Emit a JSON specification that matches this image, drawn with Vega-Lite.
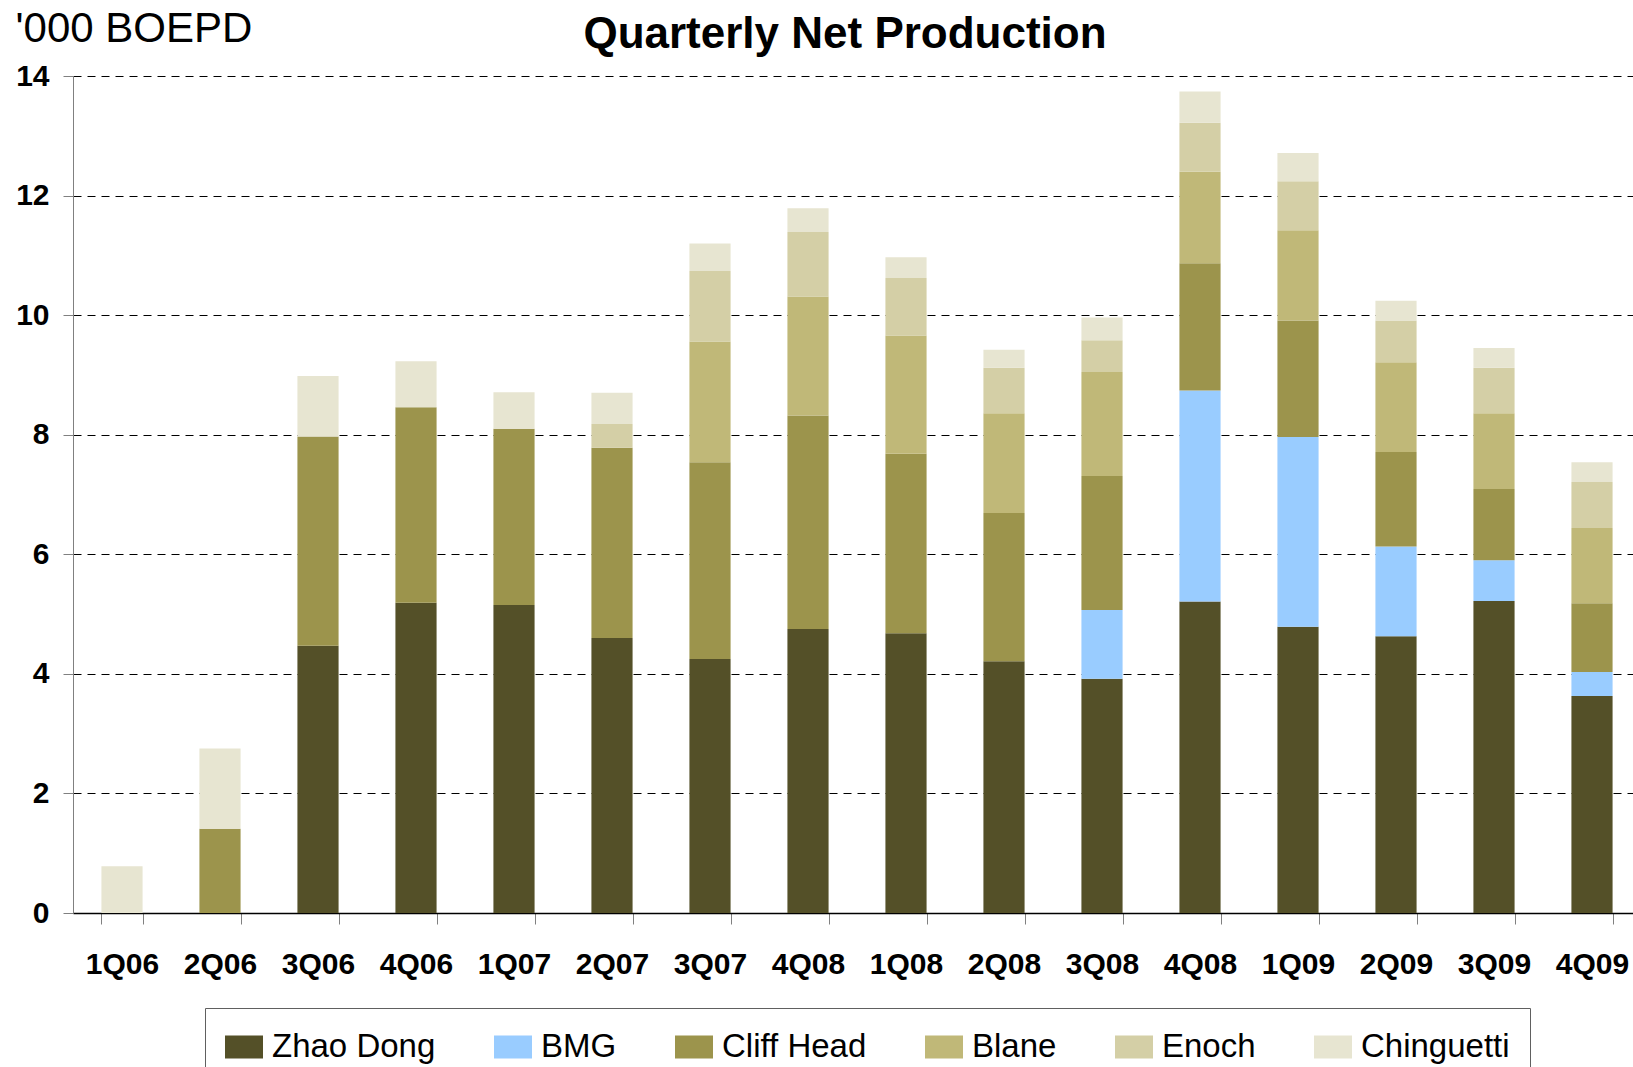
{
  "$schema": "https://vega.github.io/schema/vega-lite/v6.json",
  "width": 1568,
  "height": 837,
  "autosize": {"type": "none"},
  "padding": {"left": 73, "top": 76, "right": 0, "bottom": 154},
  "background": "white",
  "config": {"view": {"stroke": null}},
  "title": {
    "text": "Quarterly Net Production",
    "font": "Liberation Sans",
    "fontSize": 44,
    "fontWeight": "bold",
    "color": "black",
    "anchor": "middle",
    "dx": -12,
    "dy": 54
  },
  "data": {
    "values": [
      {"quarter": "1Q06", "field": "Chinguetti", "value": 0.78},
      {"quarter": "2Q06", "field": "Cliff Head", "value": 1.41},
      {"quarter": "2Q06", "field": "Chinguetti", "value": 1.34},
      {"quarter": "3Q06", "field": "Zhao Dong", "value": 4.47},
      {"quarter": "3Q06", "field": "Cliff Head", "value": 3.50},
      {"quarter": "3Q06", "field": "Chinguetti", "value": 1.01},
      {"quarter": "4Q06", "field": "Zhao Dong", "value": 5.19},
      {"quarter": "4Q06", "field": "Cliff Head", "value": 3.27},
      {"quarter": "4Q06", "field": "Chinguetti", "value": 0.77},
      {"quarter": "1Q07", "field": "Zhao Dong", "value": 5.15},
      {"quarter": "1Q07", "field": "Cliff Head", "value": 2.95},
      {"quarter": "1Q07", "field": "Chinguetti", "value": 0.61},
      {"quarter": "2Q07", "field": "Zhao Dong", "value": 4.60},
      {"quarter": "2Q07", "field": "Cliff Head", "value": 3.18},
      {"quarter": "2Q07", "field": "Enoch", "value": 0.40},
      {"quarter": "2Q07", "field": "Chinguetti", "value": 0.52},
      {"quarter": "3Q07", "field": "Zhao Dong", "value": 4.25},
      {"quarter": "3Q07", "field": "Cliff Head", "value": 3.29},
      {"quarter": "3Q07", "field": "Blane", "value": 2.02},
      {"quarter": "3Q07", "field": "Enoch", "value": 1.18},
      {"quarter": "3Q07", "field": "Chinguetti", "value": 0.46},
      {"quarter": "4Q08 ", "field": "Zhao Dong", "value": 4.75},
      {"quarter": "4Q08 ", "field": "Cliff Head", "value": 3.57},
      {"quarter": "4Q08 ", "field": "Blane", "value": 1.99},
      {"quarter": "4Q08 ", "field": "Enoch", "value": 1.08},
      {"quarter": "4Q08 ", "field": "Chinguetti", "value": 0.40},
      {"quarter": "1Q08", "field": "Zhao Dong", "value": 4.68},
      {"quarter": "1Q08", "field": "Cliff Head", "value": 3.00},
      {"quarter": "1Q08", "field": "Blane", "value": 1.98},
      {"quarter": "1Q08", "field": "Enoch", "value": 0.96},
      {"quarter": "1Q08", "field": "Chinguetti", "value": 0.35},
      {"quarter": "2Q08", "field": "Zhao Dong", "value": 4.21},
      {"quarter": "2Q08", "field": "Cliff Head", "value": 2.48},
      {"quarter": "2Q08", "field": "Blane", "value": 1.67},
      {"quarter": "2Q08", "field": "Enoch", "value": 0.76},
      {"quarter": "2Q08", "field": "Chinguetti", "value": 0.30},
      {"quarter": "3Q08", "field": "Zhao Dong", "value": 3.92},
      {"quarter": "3Q08", "field": "BMG", "value": 1.15},
      {"quarter": "3Q08", "field": "Cliff Head", "value": 2.24},
      {"quarter": "3Q08", "field": "Blane", "value": 1.74},
      {"quarter": "3Q08", "field": "Enoch", "value": 0.53},
      {"quarter": "3Q08", "field": "Chinguetti", "value": 0.38},
      {"quarter": "4Q08", "field": "Zhao Dong", "value": 5.21},
      {"quarter": "4Q08", "field": "BMG", "value": 3.53},
      {"quarter": "4Q08", "field": "Cliff Head", "value": 2.13},
      {"quarter": "4Q08", "field": "Blane", "value": 1.53},
      {"quarter": "4Q08", "field": "Enoch", "value": 0.82},
      {"quarter": "4Q08", "field": "Chinguetti", "value": 0.52},
      {"quarter": "1Q09", "field": "Zhao Dong", "value": 4.79},
      {"quarter": "1Q09", "field": "BMG", "value": 3.17},
      {"quarter": "1Q09", "field": "Cliff Head", "value": 1.95},
      {"quarter": "1Q09", "field": "Blane", "value": 1.51},
      {"quarter": "1Q09", "field": "Enoch", "value": 0.82},
      {"quarter": "1Q09", "field": "Chinguetti", "value": 0.47},
      {"quarter": "2Q09", "field": "Zhao Dong", "value": 4.63},
      {"quarter": "2Q09", "field": "BMG", "value": 1.50},
      {"quarter": "2Q09", "field": "Cliff Head", "value": 1.58},
      {"quarter": "2Q09", "field": "Blane", "value": 1.50},
      {"quarter": "2Q09", "field": "Enoch", "value": 0.70},
      {"quarter": "2Q09", "field": "Chinguetti", "value": 0.33},
      {"quarter": "3Q09", "field": "Zhao Dong", "value": 5.22},
      {"quarter": "3Q09", "field": "BMG", "value": 0.68},
      {"quarter": "3Q09", "field": "Cliff Head", "value": 1.19},
      {"quarter": "3Q09", "field": "Blane", "value": 1.27},
      {"quarter": "3Q09", "field": "Enoch", "value": 0.76},
      {"quarter": "3Q09", "field": "Chinguetti", "value": 0.33},
      {"quarter": "4Q09", "field": "Zhao Dong", "value": 3.63},
      {"quarter": "4Q09", "field": "BMG", "value": 0.40},
      {"quarter": "4Q09", "field": "Cliff Head", "value": 1.15},
      {"quarter": "4Q09", "field": "Blane", "value": 1.26},
      {"quarter": "4Q09", "field": "Enoch", "value": 0.77},
      {"quarter": "4Q09", "field": "Chinguetti", "value": 0.33}
    ]
  },
  "transform": [
    {"calculate": "indexof(['Zhao Dong', 'BMG', 'Cliff Head', 'Blane', 'Enoch', 'Chinguetti'], datum.field)", "as": "stackOrder"}
  ],
  "mark": {"type": "bar"},
  "encoding": {
    "x": {
      "field": "quarter",
      "type": "ordinal",
      "sort": null,
      "scale": {"paddingInner": 0.58, "paddingOuter": 0.29},
      "axis": {
        "title": null,
        "labelExpr": "trim(datum.label)",
        "labelAngle": 0,
        "labelFont": "Liberation Sans",
        "labelFontSize": 30,
        "labelFontWeight": "bold",
        "labelColor": "black",
        "labelPadding": 25,
        "tickBand": "extent",
        "tickSize": 11,
        "tickColor": "#808080",
        "domainColor": "black",
        "domainWidth": 1.5,
        "grid": false
      }
    },
    "y": {
      "field": "value",
      "type": "quantitative",
      "stack": "zero",
      "scale": {"domain": [0, 14], "nice": false},
      "axis": {
        "title": "'000 BOEPD",
        "titleAngle": 0,
        "titleX": -58,
        "titleY": -35,
        "titleAlign": "left",
        "titleBaseline": "alphabetic",
        "titleFont": "Liberation Sans",
        "titleFontSize": 42,
        "titleFontWeight": "normal",
        "titleColor": "black",
        "values": [0, 2, 4, 6, 8, 10, 12, 14],
        "labelFont": "Liberation Sans",
        "labelFontSize": 30,
        "labelFontWeight": "bold",
        "labelColor": "black",
        "labelPadding": 14,
        "tickSize": 10,
        "tickColor": "#808080",
        "domainColor": "#808080",
        "grid": true,
        "gridColor": "black",
        "gridDash": [8, 6],
        "gridWidth": 1
      }
    },
    "order": {"field": "stackOrder", "type": "quantitative", "sort": "ascending"},
    "color": {
      "field": "field",
      "type": "nominal",
      "sort": ["Zhao Dong", "BMG", "Cliff Head", "Blane", "Enoch", "Chinguetti"],
      "scale": {
        "domain": ["Zhao Dong", "BMG", "Cliff Head", "Blane", "Enoch", "Chinguetti"],
        "range": ["#545028", "#99CCFF", "#9C944C", "#C0B878", "#D4CFA6", "#E7E5D1"]
      },
      "legend": {
        "orient": "none",
        "legendX": 132,
        "legendY": 932,
        "direction": "horizontal",
        "columns": 6,
        "title": null,
        "strokeColor": "#606060",
        "fillColor": "white",
        "padding": 20,
        "labelFont": "Liberation Sans",
        "labelFontSize": 33,
        "labelColor": "black",
        "labelOffset": 9,
        "labelLimit": 400,
        "symbolType": "M-1,-0.6L1,-0.6L1,0.6L-1,0.6Z",
        "symbolSize": 1444,
        "symbolStrokeWidth": 0,
        "symbolOpacity": 1,
        "columnPadding": 58
      }
    }
  }
}
